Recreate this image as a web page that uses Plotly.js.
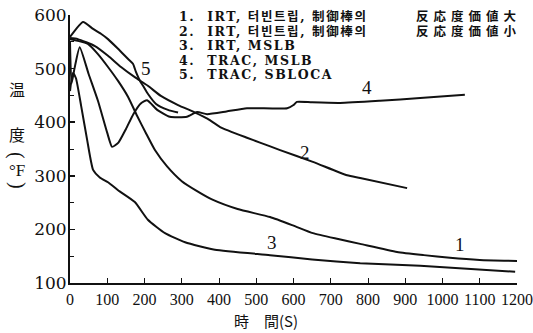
<!DOCTYPE html>
<html><head><meta charset="utf-8">
<script src="https://cdn.plot.ly/plotly-3.0.1.min.js"></script>
<style>
html,body{margin:0;padding:0;background:#fff}
#chart{width:533px;height:333px}
.annotation[data-index="5"] text{letter-spacing:1.6px}
.annotation[data-index="6"] text{letter-spacing:5px}
</style>
</head><body><div id="chart"></div>
<script>
// Curve 1: IRT, turbine trip, large rod worth
const t1 = [0, 20, 48, 75, 102, 129, 156, 180, 205, 228, 260, 300, 340, 384, 450, 537, 600, 652, 720, 779, 878, 950, 1020, 1100, 1200];
const T1 = [555, 552, 546, 527, 503, 477, 447, 412, 378, 348, 318, 290, 272, 255, 238, 223, 207, 193, 182, 173, 158, 152, 147, 143, 141];
// Curve 2: IRT, turbine trip, small rod worth
const t2 = [0, 21, 67, 102, 137, 174, 209, 244, 290, 336, 370, 403, 475, 510, 564, 652, 744, 779, 905];
const T2 = [557, 555, 542, 524, 503, 484, 468, 449, 432, 418, 406, 391, 371, 362, 348, 326, 301, 296, 277];
// Curve 3: IRT, MSLB
const t3 = [0, 8, 16, 30, 46, 62, 80, 102, 129, 174, 209, 255, 309, 389, 537, 650, 779, 940, 1195];
const T3 = [458, 492, 482, 430, 367, 311, 297, 288, 273, 251, 218, 193, 176, 162, 152, 144, 137, 132, 121];
// Curve 4: TRAC, MSLB
const t4 = [0, 4, 12, 26, 50, 75, 100, 113, 130, 150, 170, 190, 207, 234, 268, 314, 341, 368, 420, 475, 583, 600, 609, 650, 725, 832, 940, 1060];
const T4 = [550, 472, 500, 540, 490, 440, 380, 354, 362, 387, 415, 435, 441, 423, 410, 410, 419, 415, 420, 426, 426, 432, 438, 437, 436, 440, 445, 451];
// Curve 5: TRAC, SBLOCA
const t5 = [0, 35, 62, 83, 102, 129, 156, 169, 177, 188, 196, 209, 231, 263, 290];
const T5 = [559, 587, 574, 565, 555, 537, 518, 509, 494, 477, 468, 453, 434, 423, 418];

const curveLabels = ['1', '2', '3', '4', '5'];
const curveLabelX = [1047, 631, 542, 797, 204];
const curveLabelY = [171, 344, 175, 464, 501];

const legendHeads = ['1.  IRT, 터빈트립, 制御棒의', '2.  IRT, 터빈트립, 制御棒의', '3.  IRT, MSLB', '4.  TRAC, MSLB', '5.  TRAC, SBLOCA'];
const legendTails = ['反応度価値大', '反応度価値小'];

const xTickVals = [0, 100, 200, 300, 400, 500, 600, 700, 800, 900, 1000, 1100, 1200];
const xTickText = ['0', '100', '200', '300', '400', '500', '600', '700', '800', '900', '1000', '1100', '1200'];
const yTickVals = [100, 200, 300, 400, 500, 600];
const yTickText = ['100', '200', '300', '400', '500', '600'];

const yTitleTop = ['温', '度'];
const yTitleUnit = ['(', '°F', ')'];
const xTitle = '時　間(S)';

// pixel helpers for text placement (plot area: x 70..517, y 15..283)
const PX = p => (p - 70) / 447;
const PY = p => (283 - p) / 268;

const series = [[t1, T1], [t2, T2], [t3, T3], [t4, T4], [t5, T5]];
const data = series.map(([x, y]) => ({
  x: x, y: y, type: 'scatter', mode: 'lines',
  line: {color: '#111', width: 2, shape: 'spline', smoothing: 0.5},
  hoverinfo: 'skip', showlegend: false
}));

const annotations = [];
// 0-4: curve labels
curveLabels.forEach((s, i) => annotations.push({
  x: curveLabelX[i], y: curveLabelY[i], xref: 'x', yref: 'y', text: s, showarrow: false,
  font: {family: 'Liberation Serif, serif', size: 19, color: '#111'}
}));
// 5: legend heads (one multi-line block; base size sets the row pitch)
const rowPitch = 14.5, baseSize = rowPitch / 1.3, glyphSize = 12.5;
const wrap = s => '<span style="font-size:' + glyphSize + 'px"><b>' + s + '</b></span>';
annotations.push({
  x: PX(177), y: PY(17 + 2 * rowPitch), xref: 'paper', yref: 'paper', xanchor: 'left', yanchor: 'middle',
  align: 'left', text: legendHeads.map(wrap).join('<br>'), showarrow: false,
  font: {family: 'DejaVu Serif, Noto Sans CJK JP', size: baseSize, color: '#111'}
});
// 6: legend tails (rows 1, 2)
annotations.push({
  x: PX(414), y: PY(17 + 0.5 * rowPitch), xref: 'paper', yref: 'paper', xanchor: 'left', yanchor: 'middle',
  align: 'left', text: legendTails.map(wrap).join('<br>'), showarrow: false,
  font: {family: 'DejaVu Serif, Noto Sans CJK JP', size: baseSize, color: '#111'}
});
// 7-8: y title characters
[89, 134].forEach((py, i) => annotations.push({
  x: PX(17), y: PY(py), xref: 'paper', yref: 'paper', xanchor: 'center', yanchor: 'middle',
  text: yTitleTop[i], showarrow: false,
  font: {family: 'Noto Sans CJK JP', size: 16, color: '#111'}
}));
// 9-11: unit (°F) written vertically, brackets turned
[155, 170, 185].forEach((py, i) => annotations.push({
  x: PX(17), y: PY(py), xref: 'paper', yref: 'paper', xanchor: 'center', yanchor: 'middle',
  text: yTitleUnit[i], showarrow: false, textangle: (i === 1 ? 0 : 90),
  font: {family: 'Liberation Serif, serif', size: (i === 1 ? 17 : 20), color: '#111'}
}));
// 12: x title
annotations.push({
  x: PX(266), y: PY(333), xref: 'paper', yref: 'paper', xanchor: 'center', yanchor: 'bottom',
  text: xTitle, showarrow: false,
  font: {family: 'Noto Sans CJK JP', size: 15, color: '#111'}
});

const layout = {
  width: 533, height: 333,
  margin: {l: 70, r: 16, t: 15, b: 50, pad: 0},
  paper_bgcolor: '#fff', plot_bgcolor: '#fff',
  showlegend: false,
  xaxis: {
    range: [0, 1200], showgrid: false, zeroline: false,
    showline: true, linecolor: '#111', linewidth: 2,
    tickmode: 'array', tickvals: xTickVals, ticktext: xTickText, tickangle: 0,
    ticks: 'inside', ticklen: 5, tickwidth: 1, tickcolor: '#111',
    tickfont: {family: 'Liberation Serif, serif', size: 16, color: '#111'},
    ticklabelstandoff: 1, ticklabeloverflow: 'allow'
  },
  yaxis: {
    range: [100, 600], showgrid: false, zeroline: false,
    showline: true, linecolor: '#111', linewidth: 2,
    tickmode: 'array', tickvals: yTickVals, ticktext: yTickText,
    ticks: 'inside', ticklen: 5, tickwidth: 1.5, tickcolor: '#111',
    minor: {tickmode: 'linear', dtick: 50, ticks: 'inside', ticklen: 4, tickcolor: '#111', tickwidth: 1},
    tickfont: {family: 'DejaVu Serif, serif', size: 17, color: '#111'},
    ticklabelstandoff: -2
  },
  annotations: annotations
};

Plotly.newPlot('chart', data, layout, {staticPlot: true, displayModeBar: false});
</script></body></html>
